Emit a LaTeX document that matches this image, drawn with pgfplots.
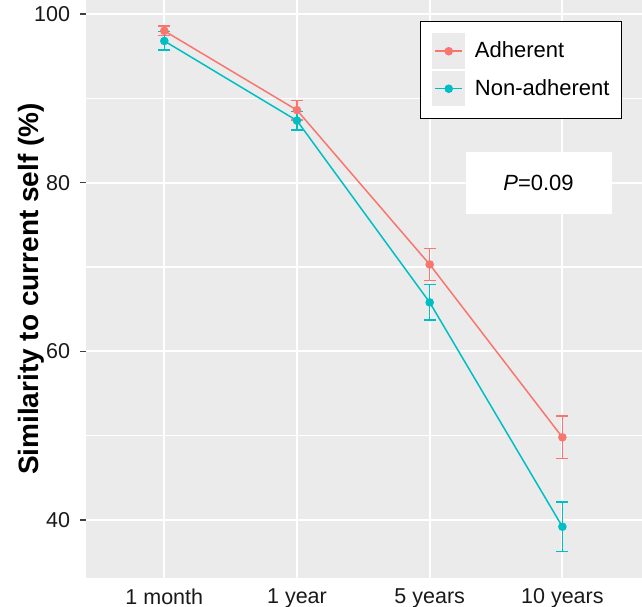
\documentclass[border=0pt]{standalone}
\usepackage{pgfplots}
\pgfplotsset{compat=1.18}
\usepackage{pgfplotstable}
\usepackage{fontspec}
\setmainfont{Liberation Sans}
\definecolor{ggbg}{HTML}{EBEBEB}
\definecolor{adh}{HTML}{F8766D}
\definecolor{nad}{HTML}{00BFC4}
\pgfplotstableread{
x y e
1 98.0 0.55
2 88.6 1.15
3 70.3 1.9
4 49.8 2.5
}\adhtab
\pgfplotstableread{
x y e
1 96.8 1.1
2 87.35 1.1
3 65.8 2.1
4 39.2 2.95
}\nadtab
\begin{document}
\begin{tikzpicture}
\begin{axis}[name=ax, scale only axis, width=278pt, height=289pt,
  xmin=0.41, xmax=4.6, ymin=33.12, ymax=101.66,
  xtick={1,2,3,4}, xticklabels={1 month,1 year,5 years,10 years},
  ytick={40,60,80,100}, minor ytick={50,70,90},
  xmajorgrids, ymajorgrids, yminorgrids,
  major grid style={white, line width=1.1pt},
  minor grid style={white, line width=0.55pt},
  axis background/.style={fill=ggbg},
  axis line style={draw=none},
  tick align=outside, xtick pos=bottom, ytick pos=left,
  major tick length=2.75pt, minor tick length=0pt,
  tick style={black!75, line width=0.55pt},
  xtick style={/pgfplots/major tick length=0pt},
  tick label style={font=\fontsize{10.75}{12}\selectfont, text=black!90},
  /pgf/number format/assume math mode=true,
  yticklabel style={inner sep=0pt, xshift=-5pt},
  xticklabel style={inner sep=0pt, yshift=-2.5pt},
  ylabel={Similarity to current self (\%)},
  ylabel style={at={(rel axis cs:-0.0863,0.5)}, anchor=base, font=\bfseries\fontsize{14}{16}\selectfont},
  legend style={at={(0.6007,0.9637)}, anchor=north west, draw=black, line width=0.5pt, fill=white,
    inner xsep=6pt, inner ysep=6pt, row sep=1pt, font=\fontsize{11}{13}\selectfont,
    nodes={inner sep=0pt}, /tikz/every odd column/.append style={column sep=5pt}, cells={anchor=west}},
  legend image code/.code={
    \fill[ggbg] (0pt,-8.5pt) rectangle (15.5pt,8.5pt);
    \draw[mark repeat=2, mark phase=2, #1] plot coordinates {(1pt,0pt) (7.75pt,0pt) (14.5pt,0pt)};
  },
]
\addplot[adh, line width=0.75pt, mark=*, mark size=1.75pt, mark options={fill=adh},
  error bars/.cd, y dir=both, y explicit,
  error bar style={line width=0.75pt, adh},
  error mark options={adh, line width=0.75pt, mark size=3pt, rotate=90}]
  table[x=x, y=y, y error=e]{\adhtab};
\addlegendentry{Adherent}
\addplot[nad, line width=0.75pt, mark=*, mark size=1.75pt, mark options={fill=nad},
  error bars/.cd, y dir=both, y explicit,
  error bar style={line width=0.75pt, nad},
  error mark options={nad, line width=0.75pt, mark size=3pt, rotate=90}]
  table[x=x, y=y, y error=e]{\nadtab};
\addlegendentry{Non-adherent}
\node[fill=white, minimum width=73pt, minimum height=31pt, inner sep=0pt, font=\fontsize{11}{13}\selectfont] at (axis cs:3.82,80) {\textit{P}=0.09};
\end{axis}
\pgfresetboundingbox
\path[use as bounding box] ([xshift=-43pt,yshift=-14.5pt]ax.south west) rectangle (ax.north east);
\end{tikzpicture}
\end{document}
